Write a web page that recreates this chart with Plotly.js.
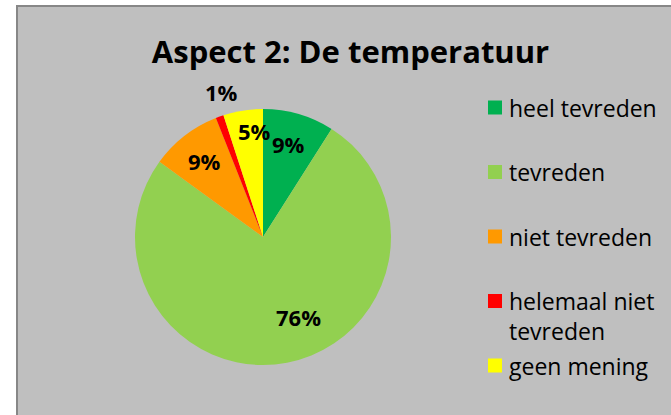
<!DOCTYPE html>
<html>
<head>
<meta charset="utf-8">
<script src="https://cdn.plot.ly/plotly-3.0.1.min.js"></script>
<style>html,body{margin:0;padding:0;background:#fff;}#chart{width:671px;height:415px;}</style>
</head>
<body>
<div id="chart"></div>
<script>
// ---- data ----
const chartTitle = 'Aspect 2: De temperatuur';
const categories = ['heel tevreden', 'tevreden', 'niet tevreden', 'helemaal niet tevreden', 'geen mening'];
const values = [9, 76, 9, 1, 5];
const legendLines = [['heel tevreden'], ['tevreden'], ['niet tevreden'], ['helemaal niet', 'tevreden'], ['geen mening']];

// ---- styles / layout constants ----
const colors = ['#00b050', '#92d050', '#ff9900', '#ff0000', '#ffff00'];
const W = 671, H = 415;
const pie = {cx: 263, cy: 237, r: 128};
const labelRadius = [0.75, 0.68, 0.75, 1.18, 0.83];
const labelAngleShift = [-1, -13, 0, 4, 4.5];
const leg = {sqX: 488, sq: 14, y0: 107.5, step: 64.5, textX: 507, font: 23, lineH: 30};

const px = x => x / W;
const py = y => 1 - y / H;

const total = values.reduce((a, b) => a + b, 0);

const trace = {
  type: 'pie',
  labels: categories,
  values: values,
  sort: false,
  direction: 'clockwise',
  rotation: 0,
  marker: {colors: colors, line: {width: 0}},
  textinfo: 'none',
  hoverinfo: 'label+percent',
  showlegend: false,
  domain: {x: [px(pie.cx - pie.r), px(pie.cx + pie.r)], y: [py(pie.cy + pie.r), py(pie.cy - pie.r)]}
};

const annotations = [];
const shapes = [{
  type: 'rect', xref: 'paper', yref: 'paper', layer: 'below',
  x0: px(17), x1: 1.05, y0: -0.05, y1: py(6),
  fillcolor: '#bfbfbf', line: {color: '#878787', width: 2}
}];

// percentage labels computed from values
let cum = 0;
values.forEach((v, i) => {
  const mid = (cum + v / 2) / total * 360 + labelAngleShift[i];
  cum += v;
  const a = mid * Math.PI / 180;
  const rr = labelRadius[i] * pie.r;
  const x = pie.cx + rr * Math.sin(a);
  const y = pie.cy - rr * Math.cos(a);
  annotations.push({
    xref: 'paper', yref: 'paper', x: px(x), y: py(y),
    xanchor: 'center', yanchor: 'middle', showarrow: false,
    text: '<b>' + Math.round(v / total * 100) + '%</b>',
    font: {family: 'Open Sans, sans-serif', size: 22, color: '#000'}
  });
});

// legend built from categories/colors
categories.forEach((c, i) => {
  const yc = leg.y0 + i * leg.step;
  shapes.push({
    type: 'rect', xref: 'paper', yref: 'paper',
    x0: px(leg.sqX), x1: px(leg.sqX + leg.sq), y0: py(yc + leg.sq / 2), y1: py(yc - leg.sq / 2),
    fillcolor: colors[i], line: {width: 0}
  });
  const lines = legendLines[i];
  const ymid = yc + (lines.length - 1) * leg.lineH / 2;
  annotations.push({
    xref: 'paper', yref: 'paper', x: px(leg.textX), y: py(ymid),
    xanchor: 'left', yanchor: 'middle', align: 'left', showarrow: false,
    text: lines.join('<br>'),
    font: {family: 'Open Sans, sans-serif', size: leg.font, color: '#000'}
  });
});

const layout = {
  width: W, height: H,
  margin: {l: 0, r: 0, t: 0, b: 0},
  paper_bgcolor: '#ffffff',
  title: {
    text: '<b>' + chartTitle + '</b>',
    x: px(350.5), xanchor: 'center', xref: 'paper',
    y: py(52), yanchor: 'middle', yref: 'paper',
    font: {family: 'Open Sans, sans-serif', size: 31, color: '#000'}
  },
  showlegend: false,
  shapes: shapes,
  annotations: annotations
};

Plotly.newPlot('chart', [trace], layout, {displayModeBar: false, staticPlot: true});
</script>
</body>
</html>
